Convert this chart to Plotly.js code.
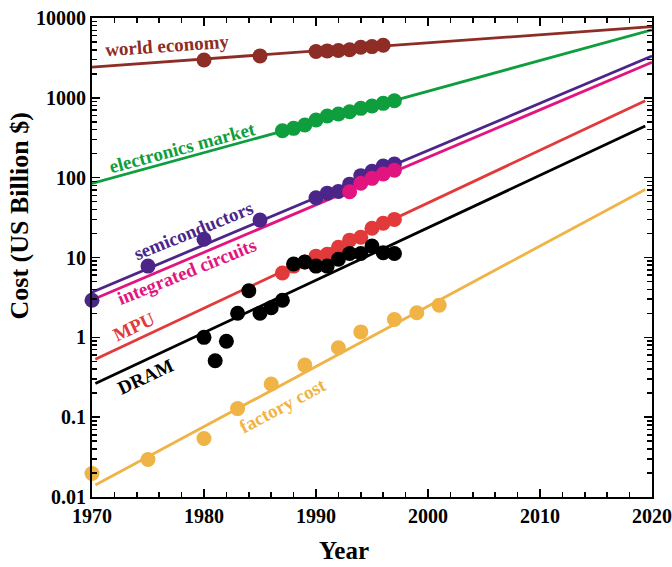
<!DOCTYPE html>
<html>
<head>
<meta charset="utf-8">
<script src="https://cdn.plot.ly/plotly-3.0.1.min.js"></script>
<style>html,body{margin:0;padding:0;background:#fff;}#chart{width:672px;height:567px;}</style>
</head>
<body>
<div id="chart"></div>
<script>
// ---- data ----
const worldYears = [1980, 1985, 1990, 1991, 1992, 1993, 1994, 1995, 1996];
const worldVals  = [2980, 3350, 3800, 3870, 3920, 4000, 4300, 4380, 4550];

const elecYears = [1987, 1988, 1989, 1990, 1991, 1992, 1993, 1994, 1995, 1996, 1997];
const elecVals  = [387, 415, 456, 527, 592, 627, 670, 738, 789, 853, 920];

const semiYears = [1970, 1975, 1980, 1985, 1990, 1991, 1992, 1993, 1994, 1995, 1996, 1997];
const semiVals  = [2.92, 7.8, 16.9, 29.4, 56, 64, 67, 83, 106, 120, 140, 148];

const icYears = [1993, 1994, 1995, 1996, 1997];
const icVals  = [66.5, 85, 98, 111, 124];

const mpuYears = [1987, 1988, 1989, 1990, 1991, 1992, 1993, 1994, 1995, 1996, 1997];
const mpuVals  = [6.4, 7.8, 8.8, 10.4, 11.0, 13.4, 16.5, 17.9, 23.2, 26.8, 30];

const dramYears = [1980, 1981, 1982, 1983, 1984, 1985, 1986, 1987, 1988, 1989, 1990, 1991, 1992, 1993, 1994, 1995, 1996, 1997];
const dramVals  = [1.0, 0.51, 0.895, 2.0, 3.83, 2.0, 2.35, 2.92, 8.3, 8.8, 7.8, 7.8, 9.5, 11.2, 11.2, 13.9, 11.5, 11.2];

const factYears = [1970, 1975, 1980, 1983, 1986, 1989, 1992, 1994, 1997, 1999, 2001];
const factVals  = [0.0197, 0.0295, 0.054, 0.128, 0.26, 0.449, 0.74, 1.17, 1.67, 2.03, 2.53];

// trend-line end points (year, value)
const worldFit = {x: [1970, 2020], y: [2430, 7780]};
const elecFit  = {x: [1970, 2020], y: [84.7, 7130]};
const semiFit  = {x: [1970, 2020], y: [3.68, 3340]};
const icFit    = {x: [1970.3, 2020], y: [3.07, 2790]};
const mpuFit   = {x: [1970.3, 2019.4], y: [0.53, 920]};
const dramFit  = {x: [1970.3, 2019.4], y: [0.264, 444]};
const factFit  = {x: [1970.3, 2019.4], y: [0.0141, 71.3]};

const seriesNames = ['world economy', 'electronics market', 'semiconductors', 'integrated circuits', 'MPU', 'DRAM', 'factory cost'];

const yTickVals = [0.01, 0.1, 1, 10, 100, 1000, 10000];
const yTickText = ['0.01', '0.1', '1', '10', '100', '1000', '10000'];

const xTitle = 'Year';
const yTitle = 'Cost (US Billion $)';

// ---- styling ----
const colors = ['#8E2C26', '#0E9E3E', '#4B2688', '#E2147F', '#E23A3A', '#000000', '#F0B345'];
const pts = [[worldYears, worldVals], [elecYears, elecVals], [semiYears, semiVals], [icYears, icVals],
             [mpuYears, mpuVals], [dramYears, dramVals], [factYears, factVals]];
const fits = [worldFit, elecFit, semiFit, icFit, mpuFit, dramFit, factFit];

const traces = [];
fits.forEach((f, i) => traces.push({
  x: f.x, y: f.y, type: 'scatter', mode: 'lines', name: seriesNames[i] + ' trend',
  line: {color: colors[i], width: 2.8}, hoverinfo: 'skip'
}));
pts.forEach((p, i) => traces.push({
  x: p[0], y: p[1], type: 'scatter', mode: 'markers', name: seriesNames[i],
  cliponaxis: false,
  marker: {color: colors[i], size: 15, line: {width: 0}}
}));

const fontFam = 'Liberation Serif, Times New Roman, serif';

// label placement
const labelPos = [
  {x: 1976.7, y: 3.66, a: -4},
  {x: 1978.1, y: 2.38, a: -15},
  {x: 1979.1, y: 1.34, a: -22},
  {x: 1978.5, y: 0.82, a: -22},
  {x: 1973.75, y: 0.14, a: -25},
  {x: 1974.8, y: -0.49, a: -25},
  {x: 1987.05, y: -0.85, a: -28}
];
const annotations = seriesNames.map((n, i) => ({
  text: n, x: labelPos[i].x, y: labelPos[i].y, xref: 'x', yref: 'y',
  xanchor: 'center', yanchor: 'middle',
  showarrow: false, textangle: labelPos[i].a,
  font: {family: fontFam, size: 19, color: colors[i], weight: 'bold'}
}));
annotations.push({
  text: xTitle, xref: 'paper', yref: 'paper', x: 0.45, y: -0.1127, showarrow: false,
  xanchor: 'center', yanchor: 'middle', borderpad: 0,
  font: {family: fontFam, size: 25, color: '#000', weight: 'bold'}
});
annotations.push({
  text: yTitle, xref: 'paper', yref: 'paper', x: -0.130, y: 0.586, showarrow: false, textangle: -90,
  xanchor: 'center', yanchor: 'middle',
  font: {family: fontFam, size: 26, color: '#000', weight: 'bold'}
});

const minorY = [];
for (let e = -2; e < 4; e++) for (let k = 2; k <= 9; k++) minorY.push(k * Math.pow(10, e));

const layout = {
  width: 672, height: 567,
  margin: {l: 92, r: 20, t: 18, b: 70},
  paper_bgcolor: '#fff', plot_bgcolor: '#fff',
  showlegend: false,
  font: {family: fontFam, color: '#000'},
  xaxis: {
    range: [1970, 2020], tickmode: 'linear', tick0: 1970, dtick: 10,
    ticks: 'inside', ticklen: 8, tickwidth: 1.5, tickcolor: '#000',
    showline: true, linecolor: '#000', linewidth: 2, mirror: 'ticks',
    showgrid: false, zeroline: false,
    minor: {ticks: 'inside', ticklen: 5, tickwidth: 1.5, tickcolor: '#000', dtick: 2, showgrid: false},
    tickfont: {family: fontFam, size: 20, color: '#000', weight: 'bold'}
  },
  yaxis: {
    type: 'log', range: [-2, 4], tickmode: 'array', tickvals: yTickVals, ticktext: yTickText,
    ticks: 'inside', ticklen: 8, tickwidth: 1.5, tickcolor: '#000',
    showline: true, linecolor: '#000', linewidth: 2, mirror: 'ticks',
    showgrid: false, zeroline: false,
    minor: {ticks: 'inside', ticklen: 5, tickwidth: 1.5, tickcolor: '#000', tickmode: 'array', tickvals: minorY, showgrid: false},
    tickfont: {family: fontFam, size: 20, color: '#000', weight: 'bold'}
  },
  annotations: annotations
};

Plotly.newPlot('chart', traces, layout, {displayModeBar: false, staticPlot: true});
</script>
</body>
</html>
